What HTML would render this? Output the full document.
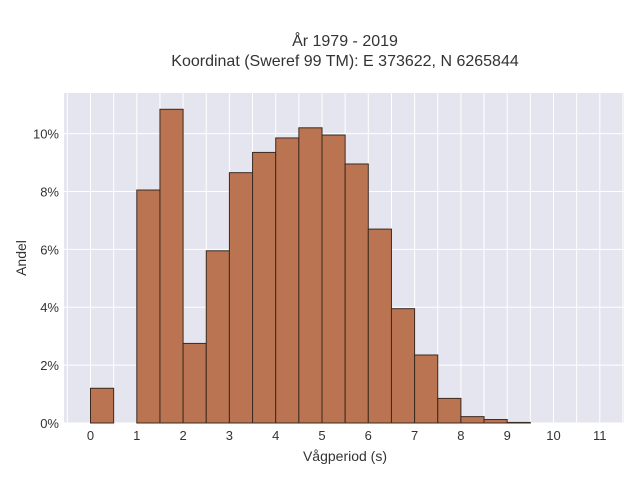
<!DOCTYPE html>
<html><head><meta charset="utf-8"><style>
body{margin:0;background:#fff;font-family:"Liberation Sans",sans-serif;}
svg text{font-family:"Liberation Sans",sans-serif;fill:#333;}
</style></head><body>
<svg width="640" height="480">
<text x="345" y="46" text-anchor="middle" font-size="16">År 1979 - 2019</text>
<text x="345" y="66" text-anchor="middle" font-size="16">Koordinat (Sweref 99 TM): E 373622, N 6265844</text>
<rect x="64" y="93" width="560" height="330" fill="#e5e5ef"/>
<g id="grid"></g>
<g id="bars"></g>
<g id="ticks"></g>
<text x="345" y="461" text-anchor="middle" font-size="14">Vågperiod (s)</text>
<text x="26" y="258" text-anchor="middle" font-size="14" transform="rotate(-90 26 258)">Andel</text>
</svg>
<script>
const binStarts=[0,0.5,1,1.5,2,2.5,3,3.5,4,4.5,5,5.5,6,6.5,7,7.5,8,8.5,9];
const shares=[1.2,0,8.05,10.84,2.75,5.95,8.65,9.35,9.85,10.2,9.95,8.95,6.7,3.95,2.35,0.85,0.22,0.12,0.02];
const binWidth=0.5;
const xTicks=[0,1,2,3,4,5,6,7,8,9,10,11];
const yTicks=[0,2,4,6,8,10];
const NS="http://www.w3.org/2000/svg";
const X=v=>90.5+v*46.3;
const Y=v=>423-v*28.94;
function mk(tag,attrs,parent){const e=document.createElementNS(NS,tag);for(const k in attrs)e.setAttribute(k,attrs[k]);document.getElementById(parent).appendChild(e);return e;}
for(let v=-0.5;v<=11.5;v+=0.5){const x=X(v);if(x<64||x>624)continue;
const l=mk('line',{x1:x,x2:x,y1:93,y2:423,stroke:'#fff','stroke-width':1},'grid');

}
yTicks.forEach(t=>{const l=mk('line',{x1:64,x2:624,y1:Y(t),y2:Y(t),stroke:'#fff','stroke-width':1},'grid');


const tx=mk('text',{x:59,y:Y(t)+5,'text-anchor':'end','font-size':13},'ticks');tx.textContent=t+'%';

});
xTicks.forEach(t=>{const tx=mk('text',{x:X(t),y:440,'text-anchor':'middle','font-size':13},'ticks');tx.textContent=t;

});
binStarts.forEach((b,i)=>{const v=shares[i];if(v<=0)return;
const r=mk('rect',{x:X(b),y:Y(v),width:X(b+binWidth)-X(b),height:Y(0)-Y(v),fill:'#bb7451',stroke:'#3a2a20','stroke-width':1},'bars');

});
</script>
</body></html>
